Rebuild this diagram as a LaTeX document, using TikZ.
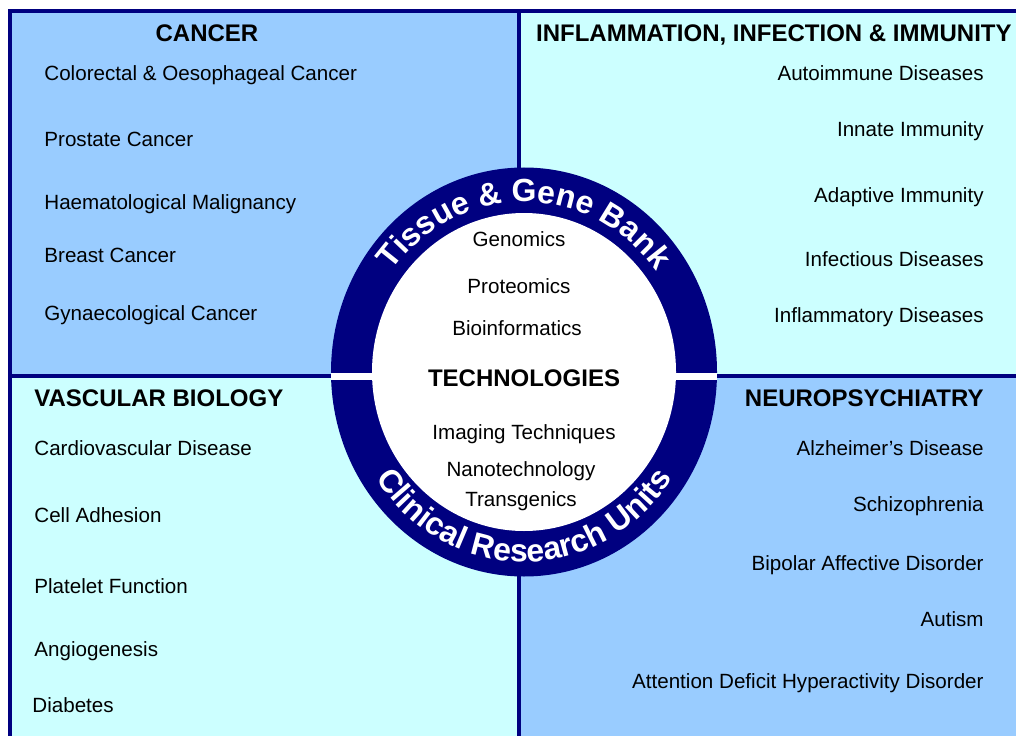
\documentclass[tikz,border=0pt]{standalone}
\usepackage{fontspec}
\setmainfont{Liberation Sans}
\usetikzlibrary{decorations.text}

\definecolor{navy}{RGB}{0,0,128}
\definecolor{paleblue}{RGB}{153,204,255}
\definecolor{palecyan}{RGB}{204,255,255}

\newcommand\ringfont{\fontsize{16}{19}\selectfont\bfseries}

\tikzset{
  item/.style={inner sep=0pt, font=\fontsize{10.3}{12}\selectfont},
  head/.style={inner sep=0pt, font=\fontsize{12}{14}\selectfont\bfseries},
  divider/.style={navy, line width=1.6pt},
}

\begin{document}
\begin{tikzpicture}[x=0.5pt, y=0.5pt]
    \useasboundingbox (0,0) rectangle (1016,735);
    \clip (0,0) rectangle (1016,735);

    % Quadranten
        \fill[paleblue] (10,359) rectangle (519,724);
        \fill[palecyan] (519,359) rectangle (1030,724);
        \fill[palecyan] (10,-10) rectangle (519,359);
        \fill[paleblue] (519,-10) rectangle (1030,359);

    % Rahmen und Trennlinien
        \draw[divider] (10,-10) -- (10,724) -- (1030,724);
        \draw[divider] (519,-10) -- (519,724);
        \draw[divider] (10,359) -- (1030,359);

    % Ring
        \fill[navy] (524,363) ellipse [x radius=96.5pt, y radius=102.25pt];
        \begin{scope}
            \clip (524,363) ellipse [x radius=96.5pt, y radius=102.25pt];
            \fill[white] (320,355) rectangle (730,362);
        \end{scope}
        \fill[white] (524,363) ellipse [x radius=76pt, y radius=79.5pt];

    % Schrift im Ring
        \path[decorate, decoration={text along path, text align=center, text color=white,
            text={|\ringfont|Tissue {\&} Gene Bank}}]
            (360,363) arc [start angle=180, end angle=0, x radius=82pt, y radius=85pt];
        \path[decorate, decoration={text along path, text align=center, text color=white,
            text={|\ringfont|Clinical Research Units}}]
            (345,363) arc [start angle=180, end angle=360, x radius=89.5pt, y radius=95pt];

    % Cancer
        \node[head, anchor=base] (cancer) at (207,693) {CANCER};
        \node[item, anchor=base west] (colorectal) at (44,654) {Colorectal \& Oesophageal Cancer};
        \node[item, anchor=base west] (prostate) at (44,588) {Prostate Cancer};
        \node[item, anchor=base west] (haemato) at (44,525) {Haematological Malignancy};
        \node[item, anchor=base west] (breast) at (44,473) {Breast Cancer};
        \node[item, anchor=base west] (gynae) at (44,415) {Gynaecological Cancer};

    % Inflammation
        \node[head, anchor=base east] (inflam) at (1012,693) {INFLAMMATION, INFECTION \& IMMUNITY};
        \node[item, anchor=base east] (autoimmune) at (984,654) {Autoimmune Diseases};
        \node[item, anchor=base east] (innate) at (984,598) {Innate Immunity};
        \node[item, anchor=base east] (adaptive) at (984,532) {Adaptive Immunity};
        \node[item, anchor=base east] (infectious) at (984,469) {Infectious Diseases};
        \node[item, anchor=base east] (inflammatory) at (984,413) {Inflammatory Diseases};

    % Vascular
        \node[head, anchor=base west] (vascular) at (34,329) {VASCULAR BIOLOGY};
        \node[item, anchor=base west] (cardio) at (34,280) {Cardiovascular Disease};
        \node[item, anchor=base west] (adhesion) at (34,213) {Cell Adhesion};
        \node[item, anchor=base west] (platelet) at (34,142) {Platelet Function};
        \node[item, anchor=base west] (angio) at (34,79) {Angiogenesis};
        \node[item, anchor=base west] (diabetes) at (32,23) {Diabetes};

    % Neuro
        \node[head, anchor=base east] (neuro) at (984,329) {NEUROPSYCHIATRY};
        \node[item, anchor=base east] (alzheimer) at (984,280) {Alzheimer’s Disease};
        \node[item, anchor=base east] (schizo) at (984,224) {Schizophrenia};
        \node[item, anchor=base east] (bipolar) at (984,165) {Bipolar Affective Disorder};
        \node[item, anchor=base east] (autism) at (984,109) {Autism};
        \node[item, anchor=base east] (adhd) at (984,47) {Attention Deficit Hyperactivity Disorder};

    % Technologien
        \node[item, anchor=base] (genomics) at (519,488) {Genomics};
        \node[item, anchor=base] (proteomics) at (519,442) {Proteomics};
        \node[item, anchor=base] (bioinf) at (517,400) {Bioinformatics};
        \node[head, anchor=base] (tech) at (524,349) {TECHNOLOGIES};
        \node[item, anchor=base] (imaging) at (524,296) {Imaging Techniques};
        \node[item, anchor=base] (nano) at (521,259) {Nanotechnology};
        \node[item, anchor=base] (transgenics) at (521,229) {Transgenics};
\end{tikzpicture}
\end{document}
